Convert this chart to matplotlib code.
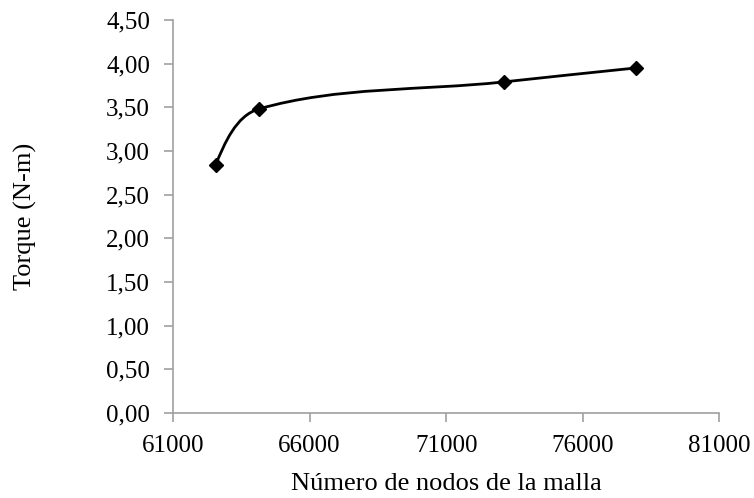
import matplotlib
matplotlib.use("Agg")
import matplotlib.pyplot as plt
import numpy as np
from matplotlib.path import Path
from matplotlib.patches import PathPatch
from matplotlib.ticker import FuncFormatter

nodos = [62560, 64140, 73100, 77940]
torque = [2.84, 3.48, 3.79, 3.95]

plt.rcParams['font.family'] = ['Liberation Serif', 'DejaVu Serif']

fig = plt.figure(figsize=(7.54, 4.98), dpi=100)
ax = fig.add_axes([0.2294, 0.1707, 0.7246, 0.7893])
ax.set_xlim(61000, 81000)
ax.set_ylim(0, 4.5)

# smoothed line like Excel, control points worked out in pixel space
pix = ax.transData.transform(np.column_stack([nodos, torque]))
n = len(pix)
tang = []
for i in range(n):
    if 0 < i < n - 1:
        d = pix[i + 1] - pix[i - 1]
        tang.append(d / np.hypot(*d))
    else:
        tang.append(None)
verts = [pix[0]]
codes = [Path.MOVETO]
for i in range(n - 1):
    a, b = pix[i], pix[i + 1]
    L = np.hypot(*(b - a)) / 3.0
    c2 = b - tang[i + 1] * L if tang[i + 1] is not None else None
    c1 = a + tang[i] * L if tang[i] is not None else None
    if c1 is None:
        d = c2 - a
        c1 = a + d / np.hypot(*d) * L
    if c2 is None:
        d = c1 - b
        c2 = b + d / np.hypot(*d) * L
    verts += [c1, c2, b]
    codes += [Path.CURVE4] * 3
verts = ax.transData.inverted().transform(np.array(verts))
ax.add_patch(PathPatch(Path(verts, codes), facecolor='none',
                       edgecolor='black', linewidth=2.0, zorder=2))
ax.plot(nodos, torque, linestyle='none', marker='D', markersize=7,
        color='black', zorder=3)

ax.set_xticks(np.arange(61000, 81001, 5000))
ax.set_yticks(np.arange(0, 4.51, 0.5))
ax.yaxis.set_major_formatter(FuncFormatter(lambda v, pos: ('%.2f' % v).replace('.', ',')))

for s in ['top', 'right']:
    ax.spines[s].set_visible(False)
for s in ['left', 'bottom']:
    ax.spines[s].set_color('#a0a0a0')
    ax.spines[s].set_linewidth(1.2)
ax.tick_params(axis='both', direction='out', length=6.5, width=1.2,
               color='#a0a0a0', labelsize=18, labelcolor='black')
ax.tick_params(axis='y', pad=10)
ax.tick_params(axis='x', pad=9)

fig.text(0.5915, 0.028, 'Número de nodos de la malla', fontsize=19,
         ha='center', va='center')
fig.text(25 / 754, 0.565, 'Torque (N-m)', fontsize=19, rotation=90,
         ha='center', va='center')

fig.savefig('out.png', dpi=100)
